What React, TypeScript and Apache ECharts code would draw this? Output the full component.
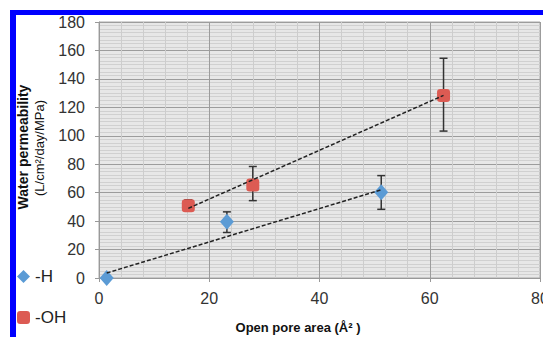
import React, { useEffect, useRef } from "react";
import * as echarts from "echarts";

// Open pore area (Å²) vs water permeability (L/cm²/day/MPa)
const hPoreArea = [1.4, 23.2, 51.2];
const hPermeability = [0, 39.5, 60.3];
const hErrLow = [0, 32, 48.3];
const hErrHigh = [0, 46.5, 72];

const ohPoreArea = [16.2, 27.9, 62.5];
const ohPermeability = [50.8, 65.4, 128.4];
const ohErrLow = [47, 54.4, 103.3];
const ohErrHigh = [55, 78.4, 154.5];

// Linear trend line end points
const hTrend = [
  [1.4, 3.5],
  [51.2, 62],
];
const ohTrend = [
  [16.2, 49],
  [62.5, 128.4],
];

const xTicks = [0, 20, 40, 60, 80];
const yTicks = [0, 20, 40, 60, 80, 100, 120, 140, 160, 180];

const FONT = "'Liberation Sans', Arial, Helvetica, sans-serif";
const BLUE = "#5b9bd5";
const RED = "#dc5b53";

function errorRows(xs: number[], lows: number[], highs: number[]) {
  return xs.map((x, i) => [x, lows[i], highs[i]]);
}

export default function App() {
  const ref = useRef<HTMLDivElement>(null);

  useEffect(() => {
    if (!ref.current) return;
    const chart = echarts.init(ref.current, null, { renderer: "svg" });

    const errorRender = (params: any, api: any) => {
      const x = api.value(0);
      const lo = api.value(1);
      const hi = api.value(2);
      if (hi - lo <= 0) return null;
      const top = api.coord([x, hi]);
      const bot = api.coord([x, lo]);
      const cap = 4;
      const style = { stroke: "#333", lineWidth: 1.5 };
      return {
        type: "group",
        children: [
          { type: "line", shape: { x1: top[0], y1: top[1], x2: bot[0], y2: bot[1] }, style },
          { type: "line", shape: { x1: top[0] - cap, y1: top[1], x2: top[0] + cap, y2: top[1] }, style },
          { type: "line", shape: { x1: bot[0] - cap, y1: bot[1], x2: bot[0] + cap, y2: bot[1] }, style },
        ],
      };
    };

    chart.setOption({
      animation: false,
      backgroundColor: "#ffffff",
      textStyle: { fontFamily: FONT },
      grid: {
        left: 99,
        top: 22,
        right: 3,
        bottom: 59,
        show: true,
        backgroundColor: "#e7e7e7",
        borderColor: "#a8a8a8",
        borderWidth: 1,
        containLabel: false,
        outerBoundsMode: "none",
      },
      legend: {
        data: ["-H", "-OH"],
        orient: "vertical",
        left: 17,
        top: 268,
        itemGap: 24,
        itemWidth: 13,
        itemHeight: 13,
        padding: 0,
        textStyle: { fontSize: 17, color: "#222", fontFamily: FONT },
      },
      xAxis: {
        type: "value",
        min: xTicks[0],
        max: xTicks[xTicks.length - 1],
        interval: xTicks[1] - xTicks[0],
        axisLine: { show: true, lineStyle: { color: "#999", width: 1 } },
        axisTick: { show: true, length: 4, lineStyle: { color: "#999" } },
        axisLabel: { fontSize: 16, color: "#333", margin: 12, fontFamily: FONT, alignMaxLabel: "center" },
        splitLine: { show: true, lineStyle: { color: "#9c9c9c", width: 1 } },
        minorTick: { show: false, splitNumber: 5 },
        minorSplitLine: { show: true, lineStyle: { color: "#cdcdcd", width: 1 } },
      },
      yAxis: {
        type: "value",
        min: yTicks[0],
        max: yTicks[yTicks.length - 1],
        interval: yTicks[1] - yTicks[0],
        axisLine: { show: true, lineStyle: { color: "#999", width: 1 } },
        axisTick: { show: true, length: 4, lineStyle: { color: "#999" } },
        axisLabel: { fontSize: 16, color: "#333", margin: 14, fontFamily: FONT },
        splitLine: { show: true, lineStyle: { color: "#9c9c9c", width: 1 } },
        minorTick: { show: false, splitNumber: 8 },
        minorSplitLine: { show: true, lineStyle: { color: "#d0d0d0", width: 1 } },
      },
      series: [
        {
          name: "errH",
          type: "custom",
          renderItem: errorRender,
          data: errorRows(hPoreArea, hErrLow, hErrHigh),
          z: 2,
          silent: true,
        },
        {
          name: "errOH",
          type: "custom",
          renderItem: errorRender,
          data: errorRows(ohPoreArea, ohErrLow, ohErrHigh),
          z: 2,
          silent: true,
        },
        {
          name: "-H",
          type: "scatter",
          symbol: "diamond",
          symbolSize: [14, 16],
          itemStyle: { color: BLUE, opacity: 1 },
          data: hPoreArea.map((x, i) => [x, hPermeability[i]]),
          z: 3,
        },
        {
          name: "-OH",
          type: "scatter",
          symbol: "roundRect",
          symbolSize: 13,
          itemStyle: { color: RED, opacity: 1 },
          data: ohPoreArea.map((x, i) => [x, ohPermeability[i]]),
          z: 3,
        },
        {
          name: "trendH",
          type: "line",
          data: hTrend,
          symbol: "none",
          lineStyle: { color: "#222", width: 1.5, type: [4, 2] },
          z: 4,
          silent: true,
        },
        {
          name: "trendOH",
          type: "line",
          data: ohTrend,
          symbol: "none",
          lineStyle: { color: "#222", width: 1.5, type: [4, 2] },
          z: 4,
          silent: true,
        },
      ],
      graphic: [
        { type: "rect", shape: { x: 10, y: 10, width: 533, height: 5 }, style: { fill: "#0000ff" }, z: 10 },
        { type: "rect", shape: { x: 10, y: 10, width: 6, height: 327 }, style: { fill: "#0000ff" }, z: 10 },
        {
          type: "text",
          x: 23,
          y: 147,
          rotation: Math.PI / 2,
          style: {
            text: "Water permeability",
            font: `bold 14px ${FONT}`,
            fill: "#111",
            align: "center",
            verticalAlign: "middle",
          },
          z: 10,
        },
        {
          type: "text",
          x: 39,
          y: 148,
          rotation: Math.PI / 2,
          style: {
            text: "(L/cm²/day/MPa)",
            font: `13px ${FONT}`,
            fill: "#111",
            align: "center",
            verticalAlign: "middle",
          },
          z: 10,
        },
        {
          type: "text",
          x: 298,
          y: 327,
          style: {
            text: "Open pore area (Å² )",
            font: `bold 13px ${FONT}`,
            fill: "#111",
            align: "center",
            verticalAlign: "middle",
          },
          z: 10,
        },
      ],
    });

    return () => chart.dispose();
  }, []);

  return (
    <div
      ref={ref}
      style={{ position: "absolute", left: 0, top: 0, width: 543, height: 337, background: "#fff" }}
    />
  );
}
